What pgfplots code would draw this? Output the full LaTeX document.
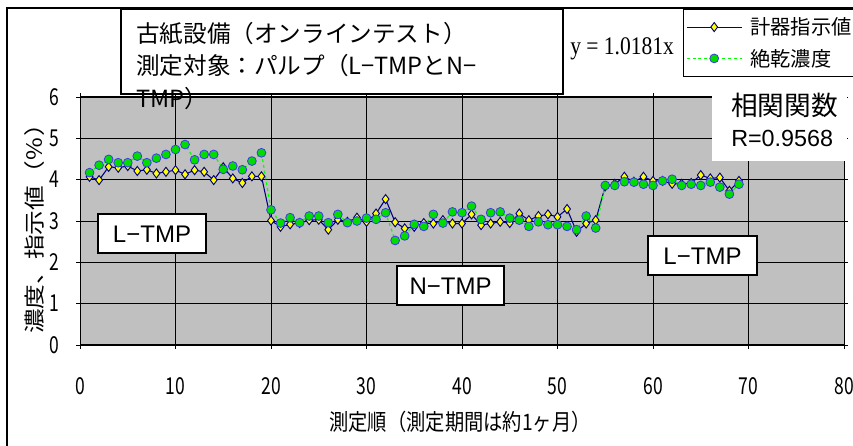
\documentclass[border=0pt]{standalone}
\usepackage{fontspec}
\usepackage{graphicx}
\usepackage{pgfplots}
\usepackage{pgfplotstable}
\pgfplotsset{compat=1.18}
\setmainfont{Noto Sans CJK JP}
\newfontfamily\jp{Noto Sans CJK JP}
\newfontfamily\jpn[FakeStretch=0.85]{Noto Sans CJK JP}
\newfontfamily\tickf[FakeStretch=0.75]{Noto Sans CJK JP}
\newfontfamily\arialf{Liberation Sans}
\newfontfamily\tnr[FakeStretch=0.85]{Liberation Serif}
\definecolor{plotgray}{RGB}{192,192,192}
\definecolor{navyline}{RGB}{0,0,128}
\definecolor{ylw}{RGB}{255,255,0}
\definecolor{grn}{RGB}{0,220,0}
\definecolor{grnline}{RGB}{0,255,0}
\definecolor{cedge}{RGB}{60,60,230}

\pgfplotstableread{
x y
1 4.07
2 3.99
3 4.31
4 4.29
5 4.33
6 4.21
7 4.24
8 4.15
9 4.19
10 4.23
11 4.13
12 4.23
13 4.19
14 3.99
15 4.30
16 4.03
17 3.92
18 4.08
19 4.08
20 3.01
21 2.86
22 2.92
23 2.95
24 3.02
25 3.03
26 2.79
27 3.03
28 2.98
29 3.08
30 2.98
31 3.18
32 3.53
33 2.97
34 2.82
35 2.86
36 2.95
37 2.94
38 3.02
39 2.94
40 2.94
41 3.16
42 2.90
43 2.94
44 2.98
45 2.95
46 3.18
47 3.02
48 3.12
49 3.16
50 3.10
51 3.29
52 2.74
53 2.94
54 3.02
55 3.84
56 3.90
57 4.07
58 3.95
59 4.07
60 3.97
61 3.97
62 3.90
63 3.90
64 3.92
65 4.11
66 4.03
67 4.05
68 3.73
69 3.97
}\meter

\pgfplotstableread{
x y
1 4.17
2 4.35
3 4.49
4 4.41
5 4.41
6 4.57
7 4.41
8 4.52
9 4.61
10 4.73
11 4.85
12 4.48
13 4.61
14 4.61
15 4.25
16 4.33
17 4.24
18 4.45
19 4.65
20 3.27
21 2.95
22 3.08
23 2.96
24 3.12
25 3.12
26 2.96
27 3.16
28 2.96
29 3.00
30 3.07
31 3.04
32 3.20
33 2.53
34 2.64
35 2.92
36 2.87
37 3.16
38 2.95
39 3.22
40 3.20
41 3.36
42 3.04
43 3.20
44 3.22
45 3.07
46 3.02
47 2.87
48 2.98
49 2.91
50 2.91
51 2.87
52 2.79
53 3.12
54 2.83
55 3.86
56 3.86
57 3.95
58 3.94
59 3.89
60 3.86
61 3.97
62 4.01
63 3.86
64 3.89
65 3.86
66 3.94
67 3.82
68 3.65
69 3.89
}\dry

\begin{document}
\begin{tikzpicture}[x=0.75pt,y=0.75pt]
\useasboundingbox (0,0) rectangle (853,446);
\clip (0,0) rectangle (853,446);
% chart border
\draw[line width=0.9pt] (7,-5) -- (7,438) -- (900,438);
\begin{axis}[
  at={(60pt,75.75pt)}, anchor=south west,
  scale only axis, width=573pt, height=186pt,
  xmin=0, xmax=80, ymin=0, ymax=6,
  xtick={0,10,...,80}, ytick={0,1,...,6},
  axis background/.style={fill=plotgray},
  grid=major, major grid style={black, line width=0.6pt},
  axis line style={black, line width=0.75pt},
  tick align=outside, major tick length=3pt,
  tick style={black, line width=0.6pt},
  /pgf/number format/assume math mode=true,
  ticklabel style={font=\fontsize{17.5pt}{17.5pt}\tickf},
  xticklabel style={anchor=center, yshift=-27.75pt},
  yticklabel style={anchor=center, xshift=-16.5pt},
  legend style={at={(0.7893,1.3548)}, anchor=north west, draw=black,
    line width=0.6pt, fill=white, font=\fontsize{15.2pt}{15.2pt}\jp,
    inner xsep=2pt, inner ysep=1.5pt, row sep=0pt,
    nodes={text height=16pt, text depth=4.5pt, inner ysep=1.5pt, inner xsep=3pt},
    /tikz/every odd column/.append style={column sep=3pt}},
  legend cell align=left,
  legend image code/.code={\draw[mark repeat=2,mark phase=2,#1] plot coordinates {(0cm,0cm) (0.725cm,0cm) (1.45cm,0cm)};},
]
\addplot[navyline, line width=0.8pt, mark=diamond*, mark size=3.4pt,
  mark options={fill=ylw, draw=navyline, line width=0.7pt, solid}] table[x=x,y=y]{\meter};
\addlegendentry{計器指示値}
\addplot[grnline, line width=0.9pt, dash pattern=on 2.2pt off 2.2pt, mark=*, mark size=3.3pt,
  mark options={fill=grn, draw=cedge, line width=0.6pt, solid}] table[x=x,y=y]{\dry};
\addlegendentry{絶乾濃度}
\end{axis}
% title box
\draw[line width=1.5pt, fill=white] (121,437) rectangle (563,352);
\node[anchor=base west, inner sep=0pt, font=\fontsize{17.7pt}{17.7pt}\jp] at (136,403) {古紙設備（オンラインテスト）};
\node[anchor=base west, inner sep=0pt, font=\fontsize{17.7pt}{17.7pt}\jp] at (136,371) {測定対象：パルプ（L−TMPとN−};
\node[anchor=base west, inner sep=0pt, font=\fontsize{17.7pt}{17.7pt}\jp] at (136,338) {TMP）};
% equation
\node[anchor=base west, inner sep=0pt, font=\fontsize{19pt}{19pt}\tnr] at (570,391) {y = 1.0181x};
% correlation box
\fill[white] (712,358) rectangle (847,285);
\node[anchor=base west, inner sep=0pt, font=\fontsize{20pt}{20pt}\jp] at (731,330) {相関関数};
\node[anchor=base west, inner sep=0pt, font=\fontsize{17.5pt}{17.5pt}\arialf] at (731,299) {R=0.9568};
% region boxes
\draw[line width=1.5pt, fill=white] (98,232) rectangle (206,193);
\node[font=\fontsize{18pt}{18pt}\arialf, inner sep=0pt] at (152,211.5) {L−TMP};
\draw[line width=1.5pt, fill=white] (397,180) rectangle (504,141);
\node[font=\fontsize{18pt}{18pt}\arialf, inner sep=0pt] at (450.5,160) {N−TMP};
\draw[line width=1.5pt, fill=white] (648,210) rectangle (757,171);
\node[font=\fontsize{18pt}{18pt}\arialf, inner sep=0pt] at (702.5,190) {L−TMP};
% axis labels
\node[font=\fontsize{17pt}{17pt}\jpn, inner sep=0pt] at (460,24) {測定順（測定期間は約1ヶ月）};
\node[font=\fontsize{18.5pt}{18.5pt}\jp, inner sep=0pt, rotate=90] at (35,223) {\scalebox{1}[0.85]{濃度、指示値（％）}};
\end{tikzpicture}
\end{document}
